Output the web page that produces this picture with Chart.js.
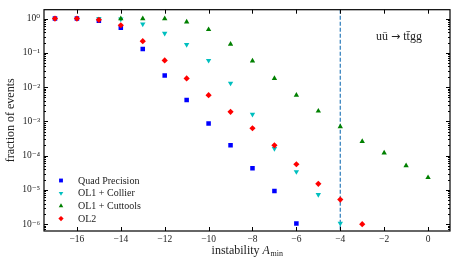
<!DOCTYPE html>
<html>
<head>
<meta charset="utf-8">
<script src="https://cdn.jsdelivr.net/npm/chart.js@4.4.0/dist/chart.umd.min.js"></script>
<style>
    html, body { margin: 0; padding: 0; background: #fff; }
    #chart-div { width: 457px; height: 265px; }
</style>
</head>
<body>
<div id="chart-div"><canvas id="instability-chart"></canvas></div>
<script>
// values
const quadX = [-17, -16, -15, -14, -13, -12, -11, -10, -9, -8, -7, -6]
const quadY = [1, 1, 0.87, 0.54, 0.13, 0.022, 0.0042, 0.00087, 0.0002, 0.000043, 0.0000093, 0.00000105]

const collierX = [-15, -14, -13, -12, -11, -10, -9, -8, -7, -6, -5, -4]
const collierY = [1, 0.97, 0.69, 0.37, 0.175, 0.06, 0.013, 0.0016, 0.00016, 0.000034, 0.0000073, 0.00000105]

const cuttoolsX = [-14, -13, -12, -11, -10, -9, -8, -7, -6, -5, -4, -3, -2, -1, 0]
const cuttoolsY = [1, 1, 1, 0.8, 0.48, 0.18, 0.058, 0.018, 0.0058, 0.002, 0.0007, 0.00026, 0.00012, 0.000051, 0.000023]

const ol2X = [-17, -16, -15, -14, -13, -12, -11, -10, -9, -8, -7, -6, -5, -4, -3]
const ol2Y = [1, 1, 0.92, 0.64, 0.22, 0.06, 0.018, 0.0058, 0.0019, 0.00063, 0.0002, 0.000056, 0.000015, 0.0000052, 0.000001]

const xTicks = [-16, -14, -12, -10, -8, -6, -4, -2, 0]
const yExponents = [0, -1, -2, -3, -4, -5, -6]
const cutLine = -4
const processParts = ['u\u016B ', '\u2192', ' tt\u0304gg']

const serif = '"Liberation Serif", "DejaVu Serif", serif'
const supDigits = { '0': '\u2070', '1': '\u00B9', '2': '\u00B2', '3': '\u00B3', '4': '\u2074', '5': '\u2075', '6': '\u2076', '7': '\u2077', '8': '\u2078', '9': '\u2079', '-': '\u207B' }
const toSup = s => String(s).split('').map(c => supDigits[c]).join('')
const minus = v => String(v).replace('-', '\u2212')

const toPoints = (xs, ys) => xs.map((x, i) => ({ x: x, y: ys[i] }))

const series = [
    { label: 'Quad Precision', xs: quadX, ys: quadY, color: '#0000ff', style: 'rect', rot: 0, r: 3.2, order: 4 },
    { label: 'OL1 + Collier', xs: collierX, ys: collierY, color: '#00bfbf', style: 'triangle', rot: 180, r: 3.1, order: 3 },
    { label: 'OL1 + Cuttools', xs: cuttoolsX, ys: cuttoolsY, color: '#008000', style: 'triangle', rot: 0, r: 3.1, order: 2 },
    { label: 'OL2', xs: ol2X, ys: ol2Y, color: '#ff0000', style: 'rectRot', rot: 0, r: 3.1, order: 1 }
]

const drawMarker = (ctx, s, x, y, k) => {
    const r = s.r * k
    ctx.save()
    ctx.fillStyle = s.color
    ctx.beginPath()
    if (s.style === 'rect') {
        const h = r * Math.SQRT1_2
        ctx.rect(x - h, y - h, 2 * h, 2 * h)
    } else if (s.style === 'rectRot') {
        ctx.moveTo(x, y - r); ctx.lineTo(x + r, y); ctx.lineTo(x, y + r); ctx.lineTo(x - r, y)
        ctx.closePath()
    } else {
        const dir = s.rot ? -1 : 1
        ctx.moveTo(x, y - dir * r)
        ctx.lineTo(x + r * 0.866, y + dir * r * 0.5)
        ctx.lineTo(x - r * 0.866, y + dir * r * 0.5)
        ctx.closePath()
    }
    ctx.fill()
    ctx.restore()
}

const framePlugin = {
    id: 'frame',
    beforeDatasetsDraw(chart) {
        const { ctx, chartArea, scales } = chart
        const px = scales.x.getPixelForValue(cutLine)
        ctx.save()
        ctx.strokeStyle = '#2b7bba'
        ctx.lineWidth = 1.2
        ctx.setLineDash([4, 2])
        ctx.beginPath()
        ctx.moveTo(px, chartArea.top)
        ctx.lineTo(px, chartArea.bottom)
        ctx.stroke()
        ctx.restore()
    },
    afterDraw(chart) {
        const { ctx, chartArea, scales } = chart
        const { left, right, top, bottom } = chartArea
        ctx.save()
        ctx.strokeStyle = '#000'
        ctx.lineWidth = 1
        ctx.beginPath()
        xTicks.forEach(v => {
            const p = Math.round(scales.x.getPixelForValue(v)) + 0.5
            ctx.moveTo(p, bottom); ctx.lineTo(p, bottom - 4)
            ctx.moveTo(p, top); ctx.lineTo(p, top + 4)
        })
        for (let e = -7; e <= 0; e++) {
            for (let m = 1; m < 10; m++) {
                const v = m * Math.pow(10, e)
                if (v < scales.y.min || v > scales.y.max) continue
                const p = Math.round(scales.y.getPixelForValue(v)) + 0.5
                const len = m === 1 ? 4 : 2
                ctx.moveTo(left, p); ctx.lineTo(left + len, p)
                ctx.moveTo(right, p); ctx.lineTo(right - len, p)
            }
        }
        ctx.stroke()
        ctx.lineWidth = 1.2
        ctx.strokeRect(left, top, right - left, bottom - top)

        // process label, arrow from a font with a larger glyph
        ctx.fillStyle = '#222'
        ctx.textBaseline = 'middle'
        ctx.textAlign = 'left'
        let px = 376
        processParts.forEach((t, i) => {
            ctx.font = (i === 1 ? '11px "DejaVu Sans", sans-serif' : '12px ' + serif)
            ctx.fillText(t, px, 37)
            px += ctx.measureText(t).width
        })

        // legend
        ctx.font = '10px ' + serif
        series.forEach((s, i) => {
            const y = 180.5 + i * 12.7
            drawMarker(ctx, s, 61, y, 0.85)
            ctx.fillStyle = '#222'
            ctx.fillText(s.label, 78, y + 0.5)
        })

        // x axis title with subscript
        const cx = (left + right) / 2
        const ty = 251
        ctx.font = '12px ' + serif
        const w1 = ctx.measureText('instability ').width
        ctx.font = 'italic 12px ' + serif
        const w2 = ctx.measureText('A').width
        ctx.font = '8px ' + serif
        const w3 = ctx.measureText('min').width
        let x0 = cx - (w1 + w2 + w3) / 2
        ctx.fillStyle = '#222'
        ctx.font = '12px ' + serif
        ctx.fillText('instability ', x0, ty)
        ctx.font = 'italic 12px ' + serif
        ctx.fillText('A', x0 + w1, ty)
        ctx.font = '8px ' + serif
        ctx.fillText('min', x0 + w1 + w2 + 0.5, ty + 3)
        ctx.restore()
    }
}

const ctx = document.getElementById('instability-chart')

const myChart = new Chart(ctx, {
    type: 'scatter',
    data: {
        datasets: series.map(s => ({
            label: s.label,
            data: toPoints(s.xs, s.ys),
            backgroundColor: s.color,
            borderColor: s.color,
            borderWidth: 0,
            pointStyle: s.style,
            rotation: s.rot,
            pointRadius: s.r,
            pointHoverRadius: s.r,
            order: s.order
        }))
    },
    options: {
        responsive: true,
        maintainAspectRatio: false,
        animation: false,
        layout: { padding: { top: 7, right: 7, left: 0, bottom: 0 } },
        plugins: {
            legend: { display: false },
            tooltip: { enabled: false }
        },
        scales: {
            x: {
                type: 'linear',
                min: -17.5,
                max: 1,
                grid: { display: false, drawTicks: false },
                border: { display: false },
                afterBuildTicks: scale => { scale.ticks = xTicks.map(v => ({ value: v })) },
                afterFit: scale => { scale.height = 34 },
                ticks: {
                    padding: 3,
                    maxRotation: 0,
                    autoSkip: false,
                    color: '#222',
                    font: { family: serif, size: 9.5 },
                    callback: v => minus(v)
                }
            },
            y: {
                type: 'logarithmic',
                min: Math.pow(10, -6.2),
                max: Math.pow(10, 0.26),
                grid: { display: false, drawTicks: false },
                border: { display: false },
                afterBuildTicks: scale => { scale.ticks = yExponents.map(e => ({ value: Math.pow(10, e) })) },
                afterFit: scale => { scale.width = 44 },
                title: {
                    display: true,
                    text: 'fraction of events',
                    color: '#222',
                    font: { family: serif, size: 12 },
                    padding: { top: 4, bottom: 0 }
                },
                ticks: {
                    padding: 4,
                    autoSkip: false,
                    color: '#222',
                    font: { family: serif, size: 9.5 },
                    callback: v => '10' + toSup(Math.round(Math.log10(v)))
                }
            }
        }
    },
    plugins: [framePlugin]
})
</script>
</body>
</html>
